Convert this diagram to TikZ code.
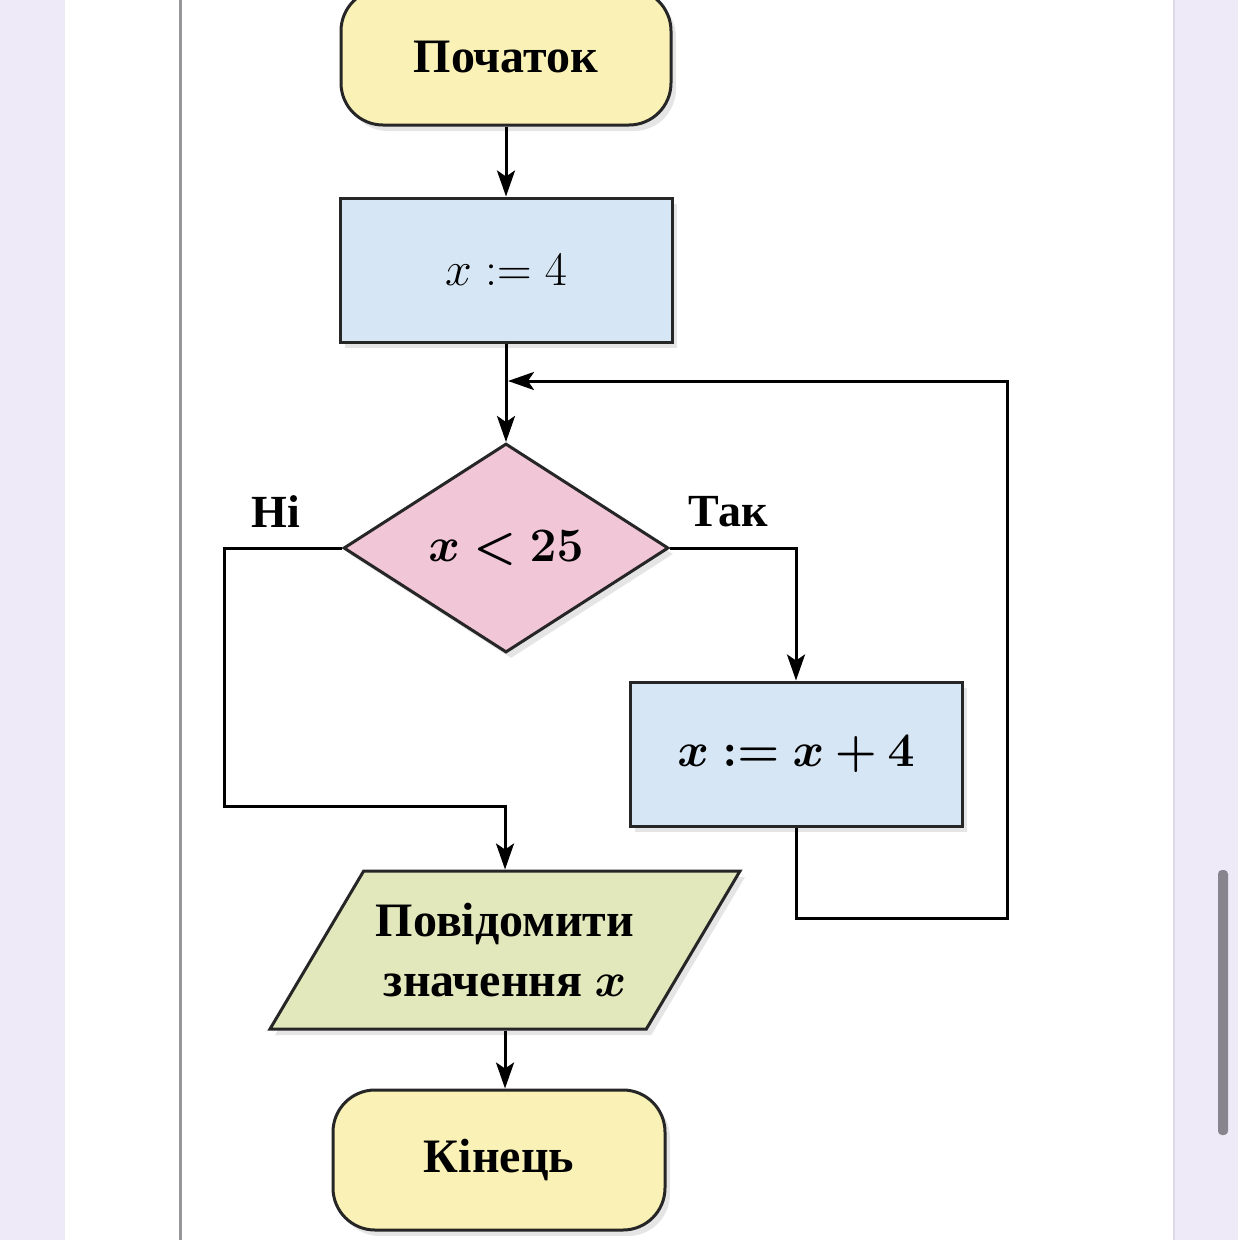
\RequirePackage{fix-cm}
\documentclass[tikz,border=0pt]{standalone}
\usepackage{bm}
\usepackage{fontspec}
\setmainfont{Liberation Serif}
\usetikzlibrary{shapes.geometric,arrows.meta,shadows}

\definecolor{pagebg}{RGB}{238,234,248}
\definecolor{termfill}{RGB}{249,241,182}
\definecolor{procfill}{RGB}{214,230,244}
\definecolor{condfill}{RGB}{241,198,215}
\definecolor{iofill}{RGB}{226,232,188}
\definecolor{rulegray}{RGB}{150,150,152}
\definecolor{barfill}{RGB}{136,133,142}

\tikzset{
  base/.style={draw=black!85, line width=3pt,
    font=\fontsize{48}{60}\selectfont\bfseries,
    drop shadow={shadow xshift=5pt, shadow yshift=-6pt, opacity=0.2}},
  termbox/.style={base, fill=termfill, rounded corners=42pt,
    minimum width=330pt, minimum height=132pt},
  procbox/.style={base, fill=procfill, minimum width=332pt, minimum height=144pt},
  decision/.style={base, diamond, fill=condfill, inner sep=0pt,
    minimum width=325pt, minimum height=209pt},
  iobox/.style={base, trapezium, trapezium left angle=47,
    trapezium right angle=133, trapezium stretches body, fill=iofill,
    minimum width=470pt, minimum height=158pt, align=center},
  arr/.style={line width=3pt, -{Stealth[length=26pt, width=18pt, inset=6pt]}},
  lab/.style={font=\fontsize{46}{54}\selectfont\bfseries}
}

\begin{document}
\begin{tikzpicture}[x=1pt, y=-1pt]
    \useasboundingbox (0,0) rectangle (1238,1240);
    % page and window
    \fill[pagebg] (0,0) rectangle (1238,1240);
    \fill[white] (65,0) rectangle (1173,1240);
    \draw[pagebg!85!gray, line width=2pt] (1174,0) -- (1174,1240);
    \draw[rulegray, line width=3pt] (180,0) -- (180,1240);
    \fill[barfill, rounded corners=4pt] (1218,870) rectangle (1228,1135);

    % blocks
    \node[termbox, minimum height=136pt] (start) at (506,57) {Початок};
    \node[procbox] (init) at (506,270) {\mdseries$x := 4$};
    \node[decision] (test) at (506,548) {$\bm{x < 25}$};
    \node[procbox] (body) at (796,754) {$\bm{x := x + 4}$};
    \node[iobox] (out) at (505,950) {Повідомити\\значення $\bm{x}$};
    \node[termbox, minimum width=332pt, minimum height=140pt] (finish) at (499,1160) {Кінець};

    \node[lab] (no) at (276,512) {Ні};
    \node[lab] (yes) at (728,512) {Так};

    \coordinate (nocorner) at (224,806);
    \coordinate (loopr) at (1007,918);
    \coordinate (loopin) at (508,381);

    % connectors
    \draw[arr] (start) -- (init);
    \draw[arr] (init) -- (test);
    \draw[arr] (test.east) -| (body.north);
    \draw[arr] (test.west) -| (nocorner) -| (out.north);
    \draw[arr] (body.south) |- (loopr) |- (loopin);
    \draw[arr] (out.south) -- (out.south |- finish.north);
\end{tikzpicture}
\end{document}
